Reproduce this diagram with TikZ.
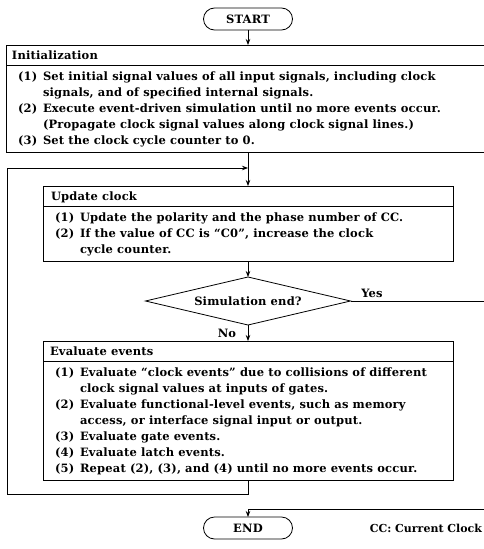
\documentclass[tikz,border=0pt]{standalone}
\usepackage{fontspec}
\setmainfont{DejaVu Serif}
\newfontfamily\bodyfont[LetterSpace=1.5]{DejaVu Serif}
\usetikzlibrary{arrows.meta,shapes.misc,shapes.geometric}
\begin{document}
\begin{tikzpicture}[x=1pt,y=-1pt,
  every node/.style={inner sep=0pt, outer sep=0pt},
  fnt/.style={font=\bodyfont\bfseries\fontsize{11.5}{13}\selectfont},
  txt/.style={fnt, anchor=base west},
  frame/.style={draw, line width=0.8pt},
  term/.style={draw, line width=0.8pt, rounded rectangle, minimum width=89pt, minimum height=22pt, fnt},
  decision/.style={draw, line width=0.8pt, diamond, aspect=4, minimum width=205pt, minimum height=48pt, fnt},
  arr/.style={line width=0.8pt, -{Stealth[length=6pt,width=4.5pt]}},
  ln/.style={line width=0.8pt}]

\useasboundingbox (0,0) rectangle (484,549);

% terminals
\node[term] (start) at (248,19) {START};
\node[term] (end) at (248,528) {END};

% Initialization box
\node[frame, minimum width=486pt, minimum height=107pt] (init) at (249,98.5) {};
\draw[ln] (init.west |- 0,65) -- (init.east |- 0,65);
\node[txt] (ih) at (12,59.5) {Initialization};
\node[txt] (i1n) at (18,80) {(1)};
\node[txt] (i1a) at (43,80) {Set initial signal values of all input signals, including clock};
\node[txt] (i1b) at (43,96) {signals, and of specified internal signals.};
\node[txt] (i2n) at (18,112) {(2)};
\node[txt] (i2a) at (43,112) {Execute event-driven simulation until no more events occur.};
\node[txt] (i2b) at (43,128) {(Propagate clock signal values along clock signal lines.)};
\node[txt] (i3n) at (18,144) {(3)};
\node[txt] (i3a) at (43,144) {Set the clock cycle counter to 0.};

% Update clock box
\node[frame, minimum width=410pt, minimum height=75pt] (upd) at (248,223.5) {};
\draw[ln] (upd.west |- 0,206) -- (upd.east |- 0,206);
\node[txt] (uh) at (51,200.5) {Update clock};
\node[txt] (u1n) at (55,221) {(1)};
\node[txt] (u1a) at (80,221) {Update the polarity and the phase number of CC.};
\node[txt] (u2n) at (55,237) {(2)};
\node[txt] (u2a) at (80,237) {If the value of CC is “C0”, increase the clock};
\node[txt] (u2b) at (80,253) {cycle counter.};

% Decision
\node[decision] (dia) at (248,301) {Simulation end?};
\node[fnt] (yes) at (372,293) {Yes};
\node[fnt] (no) at (227,333) {No};

% Evaluate events box
\node[frame, minimum width=410pt, minimum height=139pt] (eval) at (248,410.5) {};
\draw[ln] (eval.west |- 0,361) -- (eval.east |- 0,361);
\node[txt] (eh) at (50,355.5) {Evaluate events};
\node[txt] (e1n) at (55,376) {(1)};
\node[txt] (e1a) at (80,376) {Evaluate “clock events” due to collisions of different};
\node[txt] (e1b) at (80,392) {clock signal values at inputs of gates.};
\node[txt] (e2n) at (55,408) {(2)};
\node[txt] (e2a) at (80,408) {Evaluate functional-level events, such as memory};
\node[txt] (e2b) at (80,424) {access, or interface signal input or output.};
\node[txt] (e3n) at (55,440) {(3)};
\node[txt] (e3a) at (80,440) {Evaluate gate events.};
\node[txt] (e4n) at (55,456) {(4)};
\node[txt] (e4a) at (80,456) {Evaluate latch events.};
\node[txt] (e5n) at (55,472) {(5)};
\node[txt] (e5a) at (80,472) {Repeat (2), (3), and (4) until no more events occur.};

\node[font=\bfseries\fontsize{11}{13}\selectfont, anchor=base east] (cc) at (482,532) {CC: Current Clock};

% connectors
\coordinate (fb) at (248,168);
\coordinate (loopR) at (248,494);
\coordinate (loopL) at (7,494);
\coordinate (loopT) at (7,168);
\coordinate (yesR) at (492,301);
\coordinate (yesB) at (492,509);
\coordinate (endT) at (248,509);

\draw[arr] (start.south) -- (start.south |- init.north);
\draw[arr] (init.south -| upd.north) -- (upd.north);
\draw[arr] (eval.south) -- (loopR) -- (loopL) -- (loopT) -- (fb);
\draw[arr] (upd.south) -- (dia.north);
\draw[arr] (dia.south) -- (eval.north);
\draw[ln] (dia.east) -- (yesR) -- (yesB) -- (endT);
\draw[arr] (endT) -- (end.north);
\end{tikzpicture}
\end{document}
